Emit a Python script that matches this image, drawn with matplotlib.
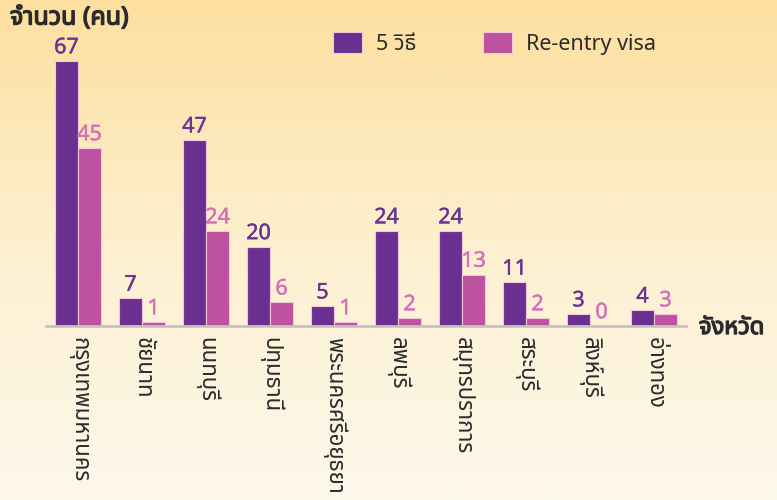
import numpy as np
import matplotlib
matplotlib.use("Agg")
import matplotlib.pyplot as plt
from matplotlib import font_manager, ft2font
from matplotlib.colors import LinearSegmentedColormap
import matplotlib.patheffects as pe

# ---- data ----
provinces = ["กรุงเทพมหานคร", "ชัยนาท", "นนทบุรี", "ปทุมธานี", "พระนครศรีอยุธยา",
             "ลพบุรี", "สมุทรปราการ", "สระบุรี", "สิงห์บุรี", "อ่างทอง"]
five_ways = [67, 7, 47, 20, 5, 24, 24, 11, 3, 4]
reentry = [45, 1, 24, 6, 1, 2, 13, 2, 0, 3]
series_names = ["5 วิธี", "Re-entry visa"]
ylabel = "จำนวน (คน)"
xlabel = "จังหวัด"

# ---- find a font with Thai glyphs ----
thai = None
cands = []
for f in font_manager.fontManager.ttflist:
    try:
        cm = ft2font.FT2Font(f.fname).get_charmap()
    except Exception:
        continue
    if 0x0E01 in cm and 0x0E33 in cm and 0x0E2A in cm:
        cands.append(f.name)
for pref in ["Noto Sans Thai", "Noto Sans Thai UI", "Tahoma", "Loma", "Garuda", "Sarabun"]:
    if pref in cands:
        thai = pref
        break
if thai is None and cands:
    thai = sorted(cands)[0]
families = ([thai] if thai else []) + ["DejaVu Sans"]
plt.rcParams['font.family'] = families

c1 = "#69308f"
c2 = "#bd52a0"
l1 = "#6a3495"
l2 = "#d46fb9"
txt = "#2b2b2b"

fig = plt.figure(figsize=(7.77, 5.0), dpi=100)

# background gradient
bg = fig.add_axes([0, 0, 1, 1], zorder=-10)
grad = np.linspace(0, 1, 256).reshape(-1, 1)
cmap = LinearSegmentedColormap.from_list("bg", ["#fddf9f", "#fdf0d0", "#fdf8ec"])
bg.imshow(grad, aspect="auto", cmap=cmap, extent=[0, 1, 0, 1], origin="upper")
bg.set_axis_off()

ax = fig.add_axes([46/777, (500-326)/500, 640/777, 296.6/500])
ax.patch.set_alpha(0)
x = np.arange(len(provinces))
w = 0.36
b1 = ax.bar(x - w/2, five_ways, w, color=c1, edgecolor="#f3c9d9", linewidth=0.8, label=series_names[0])
b2 = ax.bar(x + w/2, reentry, w, color=c2, edgecolor="#f3c9d9", linewidth=0.8, label=series_names[1])
ax.set_xlim(-0.5, len(provinces) - 0.5)
ax.set_ylim(0, 75)
for s in ["top", "right", "left"]:
    ax.spines[s].set_visible(False)
ax.spines["bottom"].set_color("#c4c4c4")
ax.spines["bottom"].set_linewidth(2)
ax.set_yticks([])
ax.set_xticks(x)
ax.set_xticklabels(provinces, rotation=270, fontsize=16, color=txt, va="top", ha="center")
ax.tick_params(axis="x", length=0, pad=8)

for xi, v in zip(x, five_ways):
    t = ax.annotate(str(v), (xi - w/2, v), xytext=(0, 2), textcoords="offset points",
                    ha="center", va="bottom", fontsize=15.5, color=l1)
    t.set_path_effects([pe.withStroke(linewidth=0.3, foreground=l1)])
for xi, v in zip(x, reentry):
    t = ax.annotate(str(v), (xi + w/2, v), xytext=(0, 2), textcoords="offset points",
                    ha="center", va="bottom", fontsize=15.5, color=l2)
    t.set_path_effects([pe.withStroke(linewidth=0.3, foreground=l2)])

bold = [pe.withStroke(linewidth=1.0, foreground=txt)]
fig.text(10/777, 1 - 18/500, ylabel, fontsize=18, color=txt, va="center", ha="left",
         path_effects=bold)
fig.text(699/777, 1 - 328/500, xlabel, fontsize=17, color=txt, va="center", ha="left",
         path_effects=bold)

leg = ax.legend(loc="upper left", bbox_to_anchor=(314/777, 1 - 13/500), bbox_transform=fig.transFigure,
                ncol=2, frameon=False, fontsize=15.5, handlelength=1.35, handleheight=1.1,
                columnspacing=3.1, handletextpad=0.65)
for t in leg.get_texts():
    t.set_color(txt)

fig.savefig("out.png", dpi=100)
